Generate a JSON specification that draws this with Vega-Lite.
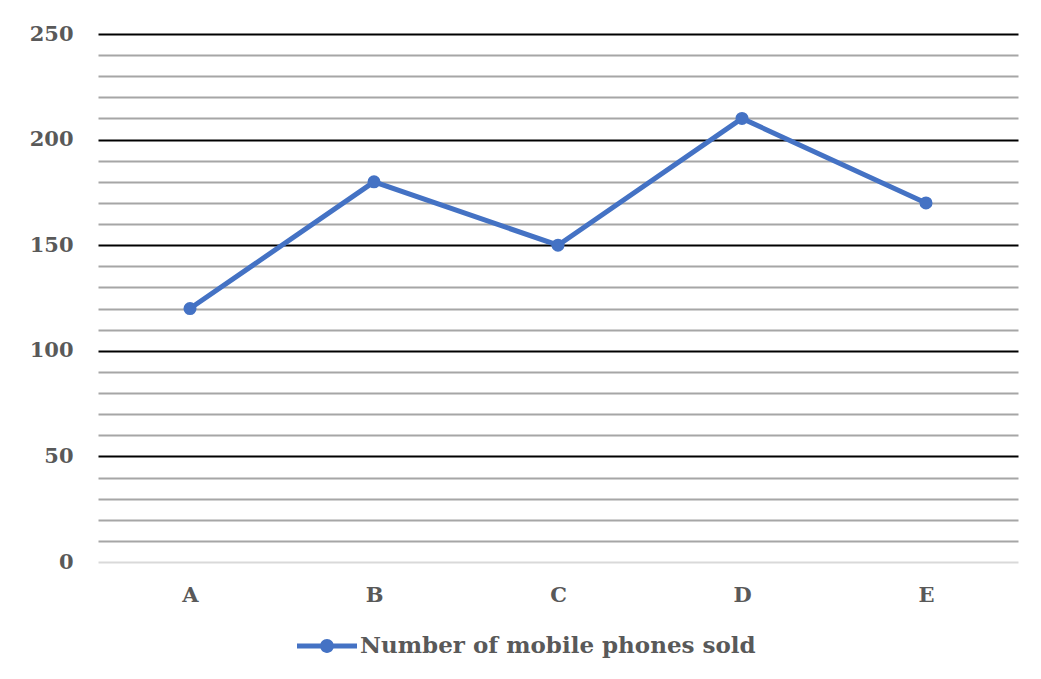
{
  "$schema": "https://vega.github.io/schema/vega-lite/v6.json",
  "width": 920,
  "height": 528,
  "autosize": {"type": "none"},
  "padding": {"left": 98, "top": 34, "right": 23, "bottom": 117},
  "background": "white",
  "config": {
    "view": {"stroke": null},
    "font": "DejaVu Serif"
  },
  "data": {
    "values": [
      {"item": "A", "sold": 120, "series": "Number of mobile phones sold"},
      {"item": "B", "sold": 180, "series": "Number of mobile phones sold"},
      {"item": "C", "sold": 150, "series": "Number of mobile phones sold"},
      {"item": "D", "sold": 210, "series": "Number of mobile phones sold"},
      {"item": "E", "sold": 170, "series": "Number of mobile phones sold"}
    ]
  },
  "encoding": {
    "x": {
      "field": "item",
      "type": "nominal",
      "scale": {"type": "point", "padding": 0.5},
      "axis": {
        "title": null,
        "domain": false,
        "ticks": false,
        "grid": false,
        "labelAngle": 0,
        "labelFont": "DejaVu Serif",
        "labelFontWeight": "bold",
        "labelFontSize": 21,
        "labelColor": "#595959",
        "labelPadding": 22
      }
    },
    "y": {
      "field": "sold",
      "type": "quantitative",
      "scale": {"domain": [0, 250], "nice": false, "zero": true},
      "axis": {
        "title": null,
        "domain": false,
        "ticks": false,
        "values": [0, 10, 20, 30, 40, 50, 60, 70, 80, 90, 100, 110, 120, 130, 140, 150, 160, 170, 180, 190, 200, 210, 220, 230, 240, 250],
        "labelExpr": "datum.value % 50 === 0 ? datum.label : ''",
        "labelFont": "DejaVu Serif",
        "labelFontWeight": "bold",
        "labelFontSize": 21,
        "labelColor": "#595959",
        "labelPadding": 25,
        "grid": true,
        "gridWidth": 2,
        "gridOpacity": 1,
        "gridColor": {
          "condition": [
            {"test": "datum.value === 0", "value": "#d9d9d9"},
            {"test": "datum.value % 50 === 0", "value": "#000000"}
          ],
          "value": "#a6a6a6"
        }
      }
    },
    "color": {
      "field": "series",
      "type": "nominal",
      "scale": {"range": ["#4472C4"]},
      "legend": {
        "title": null,
        "orient": "none",
        "legendX": 199,
        "legendY": 582,
        "symbolType": "M-1,-0.08H1V0.08H-1Z M-0.23,0 A0.23,0.23 0 1,1 0.23,0 A0.23,0.23 0 1,1 -0.23,0 Z",
        "symbolSize": 3600,
        "symbolFillColor": "#4472C4",
        "symbolStrokeWidth": 0,
        "symbolOpacity": 1,
        "labelFont": "DejaVu Serif",
        "labelFontWeight": "bold",
        "labelFontSize": 23,
        "labelColor": "#595959",
        "labelOffset": 3,
        "labelLimit": 700
      }
    }
  },
  "layer": [
    {"mark": {"type": "line", "strokeWidth": 5}},
    {"mark": {"type": "point", "filled": true, "size": 170, "opacity": 1}}
  ]
}
